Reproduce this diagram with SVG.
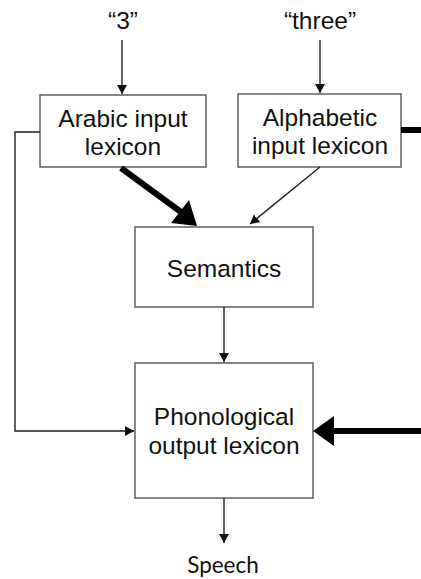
<svg xmlns="http://www.w3.org/2000/svg" width="421" height="579" viewBox="0 0 421 579">
<style>
.box{fill:#fff;stroke:#555;stroke-width:1.4}
.t{font-family:"Liberation Sans",Arial,sans-serif;font-size:24.5px;fill:#111;text-anchor:middle}
.sp{font-family:Lato,"Open Sans",sans-serif;font-size:22.5px;fill:#111;text-anchor:middle}
.thin{fill:none;stroke:#222;stroke-width:1.4}
.thick{fill:none;stroke:#000;stroke-width:6}
.head{fill:#000}
</style>
<defs>
<marker id="ah" markerUnits="userSpaceOnUse" markerWidth="11" markerHeight="11" refX="9" refY="5" orient="auto">
<path d="M0,0 L9,5 L0,10 z" fill="#111"/>
</marker>
</defs>
<rect width="421" height="579" fill="#fff"/>
<g id="label-3"><text class="t" x="123" y="29">“3”</text></g>
<g id="label-three"><text class="t" x="320" y="29">“three”</text></g>
<g id="arabic">
<rect class="box" x="40" y="95" width="166" height="72"/>
<text class="t" x="123" y="127">Arabic input</text>
<text class="t" x="123" y="155">lexicon</text>
</g>
<g id="alphabetic">
<rect class="box" x="238" y="94" width="163" height="73"/>
<text class="t" x="320" y="126">Alphabetic</text>
<text class="t" x="320" y="154">input lexicon</text>
</g>
<g id="semantics">
<rect class="box" x="135" y="227" width="178" height="80"/>
<text class="t" x="224" y="277">Semantics</text>
</g>
<g id="phonological">
<rect class="box" x="135" y="363" width="178" height="135"/>
<text class="t" x="224" y="425">Phonological</text>
<text class="t" x="224" y="454">output lexicon</text>
</g>
<g id="speech"><text class="sp" x="223" y="573">Speech</text></g>
<g id="connectors">
<line class="thin" x1="122" y1="40" x2="122" y2="94" marker-end="url(#ah)"/>
<line class="thin" x1="320" y1="40" x2="320" y2="93" marker-end="url(#ah)"/>
<line class="thin" x1="320" y1="167" x2="250" y2="224" marker-end="url(#ah)"/>
<line class="thin" x1="224" y1="307" x2="224" y2="362" marker-end="url(#ah)"/>
<line class="thin" x1="224" y1="498" x2="224" y2="543" marker-end="url(#ah)"/>
<polyline class="thin" points="40,132 15,132 15,431 134,431" marker-end="url(#ah)"/>
<line class="thick" x1="121" y1="168" x2="181" y2="212"/>
<polygon class="head" points="197,226 171,223 189,200"/>
<line class="thick" x1="421" y1="431" x2="330" y2="431"/>
<polygon class="head" points="313,431 334,416 334,446"/>
<line class="thick" x1="401" y1="130" x2="421" y2="130"/>
</g>
</svg>
